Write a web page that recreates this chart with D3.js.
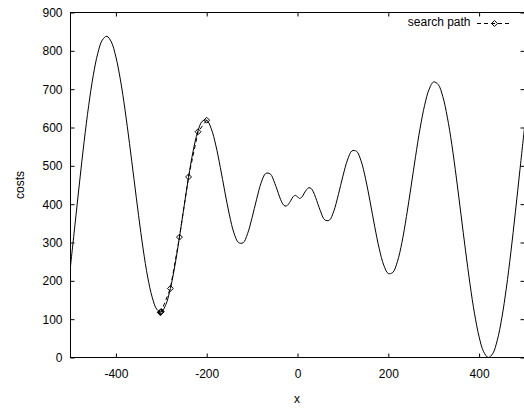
<!DOCTYPE html>
<html>
<head>
<meta charset="utf-8">
<script src="https://cdn.jsdelivr.net/npm/d3@7"></script>
<style>
  body { margin: 0; background: #fff; }
  svg { display: block; font-family: "Liberation Sans", Arial, sans-serif; }
  .tick text { font-size: 12px; fill: #000; }
</style>
</head>
<body>
<script>
var width = 524;
var height = 408;

// cost curve
var costX = [-500, -490, -480, -470, -460, -450, -440, -430, -420, -410,
             -400, -390, -380, -370, -360, -350, -340, -330, -320, -310,
             -300, -290, -280, -270, -260, -250, -240, -230, -220, -210,
             -200, -190, -180, -170, -160, -150, -140, -130, -120, -110,
             -100, -90, -80, -70, -60, -50, -40, -35, -30, -25, -20, -15, -10, -5,
             0, 5, 10, 15, 20, 25, 30, 35, 40, 50, 60, 70, 80, 90,
             100, 110, 120, 130, 140, 150, 160, 170, 180, 190,
             200, 210, 220, 230, 240, 250, 260, 270, 280, 290,
             300, 310, 320, 330, 340, 350, 360, 370, 380, 390,
             400, 410, 420, 430, 440, 450, 460, 470, 480, 490, 500];
var costY = [238, 348, 458, 563, 657, 735, 793, 828, 838, 823,
             784, 724, 647, 558, 464, 370, 283, 210, 157, 126,
             119, 138, 180, 240, 314, 393, 470, 538, 588, 616,
             619, 597, 554, 496, 432, 372, 325, 300, 299, 323,
             365, 413, 456, 480, 479, 454, 421, 406, 397, 395, 400, 409, 419, 423,
             419, 415, 419, 429, 438, 443, 441, 432, 417, 384, 359, 358, 382, 425,
             473, 515, 539, 538, 513, 466, 406, 342, 284, 241,
             219, 222, 250, 300, 368, 445, 524, 598, 658, 700,
             719, 712, 681, 627, 555, 468, 374, 280, 191, 114,
             54, 15, 0, 10, 45, 103, 181, 275, 380, 490, 600];

// search path points
var pathX = [-200, -219, -240, -260, -280, -300, -302, -301, -302];
var pathY = [619, 589, 471, 314, 180, 120, 118, 119, 117];

var xTicks = [-400, -200, 0, 200, 400];
var yTicks = [0, 100, 200, 300, 400, 500, 600, 700, 800, 900];

var plotLeft = 70.5, plotRight = 524.5, plotTop = 12.5, plotBottom = 357.5;

var svg = d3.select("body").append("svg")
            .attr("width", width)
            .attr("height", height);

var x = d3.scaleLinear().domain([-500, 500]).range([plotLeft, plotRight]);
var y = d3.scaleLinear().domain([0, 900]).range([plotBottom, plotTop]);

var plain = function(d) { return String(d); };

// axes with inward ticks on all four sides
svg.append("g")
   .attr("transform", `translate(0, ${plotBottom})`)
   .call(d3.axisBottom(x).tickValues(xTicks).tickSize(-4).tickPadding(11.5).tickFormat(plain))
   .call(g => g.select(".domain").remove());

svg.append("g")
   .attr("transform", `translate(${plotLeft}, 0)`)
   .call(d3.axisLeft(y).tickValues(yTicks).tickSize(-4).tickPadding(8).tickFormat(plain))
   .call(g => g.select(".domain").remove());

svg.append("g")
   .attr("transform", `translate(0, ${plotTop})`)
   .call(d3.axisTop(x).tickValues(xTicks).tickSize(-4).tickFormat(""))
   .call(g => g.select(".domain").remove());

svg.append("g")
   .attr("transform", `translate(${plotRight}, 0)`)
   .call(d3.axisRight(y).tickValues(yTicks).tickSize(-4).tickFormat(""))
   .call(g => g.select(".domain").remove());

svg.selectAll(".tick line").attr("stroke", "#000");

// frame
svg.append("rect")
   .attr("x", plotLeft).attr("y", plotTop)
   .attr("width", plotRight - plotLeft).attr("height", plotBottom - plotTop)
   .attr("fill", "none").attr("stroke", "#000");

// cost curve
var costData = costX.map(function(d, i) { return [d, costY[i]]; });
var line = d3.line()
             .x(function(d) { return x(d[0]); })
             .y(function(d) { return y(d[1]); })
             .curve(d3.curveCatmullRom);

svg.append("path")
   .datum(costData)
   .attr("d", line)
   .attr("fill", "none")
   .attr("stroke", "#000")
   .attr("stroke-width", 1);

// search path
var pathData = pathX.map(function(d, i) { return [d, pathY[i]]; });
var straight = d3.line()
                 .x(function(d) { return x(d[0]); })
                 .y(function(d) { return y(d[1]); });

svg.append("path")
   .datum(pathData)
   .attr("d", straight)
   .attr("fill", "none")
   .attr("stroke", "#000")
   .attr("stroke-dasharray", "4,3");

var diamond = d3.symbol().type(d3.symbolDiamond2).size(22);

svg.selectAll(".pt")
   .data(pathData)
   .enter()
   .append("path")
   .attr("class", "pt")
   .attr("transform", function(d) { return `translate(${x(d[0])}, ${y(d[1])})`; })
   .attr("d", diamond)
   .attr("fill", "none")
   .attr("stroke", "#000");

// legend
svg.append("text")
   .attr("x", 470.5).attr("y", 26)
   .attr("text-anchor", "end")
   .style("font-size", "12px")
   .text("search path");

svg.append("line")
   .attr("x1", 477).attr("x2", 512)
   .attr("y1", 23.5).attr("y2", 23.5)
   .attr("stroke", "#000")
   .attr("stroke-dasharray", "4,3");

svg.append("path")
   .attr("transform", "translate(494.5, 23.5)")
   .attr("d", diamond)
   .attr("fill", "none")
   .attr("stroke", "#000");

// axis labels
svg.append("text")
   .attr("x", (plotLeft + plotRight) / 2 - 0.5).attr("y", 403)
   .attr("text-anchor", "middle")
   .style("font-size", "12px")
   .text("x");

svg.append("text")
   .attr("transform", `translate(24, ${(plotTop + plotBottom) / 2}) rotate(-90)`)
   .attr("text-anchor", "middle")
   .style("font-size", "12px")
   .text("costs");
</script>
</body>
</html>
